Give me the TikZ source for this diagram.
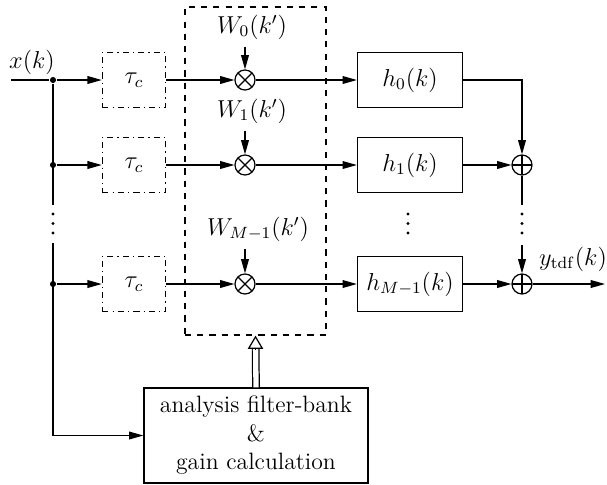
\documentclass[tikz,border=0pt]{standalone}
\usepackage{amsmath}
\usepackage{amssymb}
\usetikzlibrary{arrows.meta}

\begin{document}
\begin{tikzpicture}[x=0.49pt,y=-0.49pt,line width=0.6pt,
   font=\fontsize{11.6}{14}\selectfont,
   >={Triangle[length=7pt,width=3.8pt]},
   delay/.style={draw,dash dot,minimum width=31pt,minimum height=27pt},
   filt/.style={draw,minimum width=51.5pt,minimum height=27pt},
   mult/.style={draw,circle,inner sep=0pt,minimum size=9.8pt,
      path picture={\draw (path picture bounding box.north west) -- (path picture bounding box.south east)
         (path picture bounding box.south west) -- (path picture bounding box.north east);}},
   sum/.style={draw,circle,inner sep=0pt,minimum size=9.8pt,
      path picture={\draw (path picture bounding box.north) -- (path picture bounding box.south)
         (path picture bounding box.west) -- (path picture bounding box.east);}},
   junc/.style={circle,fill,inner sep=0pt,minimum size=3pt},
   dot/.style={circle,fill,inner sep=0pt,minimum size=1.6pt}]
\useasboundingbox (0,0) rectangle (607,484);

% input and branches
\coordinate (in) at (11,80);
\node (xk) at (32,62) {$x(k)$};
\node[junc] (j0) at (53,80) {};
\node[junc] (j1) at (53,165) {};
\node[junc] (j2) at (53,284) {};
\coordinate (ja) at (53,205);
\coordinate (jc) at (53,243);
\coordinate (jb) at (53,435.5);

\node[delay] (t0) at (134,80) {$\tau_c$};
\node[delay] (t1) at (134,165) {$\tau_c$};
\node[delay] (t2) at (134,284) {$\tau_c$};

% weighting
\node[draw,dashed,minimum width=69.1pt,minimum height=160.7pt] (wbox) at (255.5,171) {};
\node[mult] (m0) at (245,80) {};
\node[mult] (m1) at (245,165) {};
\node[mult] (m2) at (245,284) {};
\node (w0) at (252,27) {$W_0(k')$};
\node (w1) at (252,111) {$W_1(k')$};
\node (w2) at (258,229) {$W_{M-1}(k')$};

% synthesis filters
\node[filt] (h0) at (410,80) {$h_0(k)$};
\node[filt] (h1) at (410,165) {$h_1(k)$};
\node[filt] (h2) at (410,284) {$h_{M-1}(k)$};

\node[sum] (s1) at (522,165) {};
\node[sum] (s2) at (522,284) {};
\coordinate (sa) at (522,205);
\coordinate (sc) at (522,245);
\coordinate (out) at (605,284);
\node (yk) at (573,259) {$y_{\mathrm{tdf}}(k)$};

% vertical dots
\foreach \xx in {53,408,522}
   \foreach \yy in {214,223.5,233}
      \node[dot] at (\xx,\yy) {};

\node[draw,align=center,minimum width=109.8pt,minimum height=46.5pt] (ana) at (256,435.5)
   {analysis filter-bank\\ \&\\ gain calculation};

\draw (in) -- (j0);
\draw (j0) -- (ja);
\draw (jc) -- (jb);
\draw[->] (jb) -- (ana.west);
\draw[->] (j0) -- (t0);
\draw[->] (j1) -- (t1);
\draw[->] (j2) -- (t2);
\draw[->] (t0) -- (m0);
\draw[->] (t1) -- (m1);
\draw[->] (t2) -- (m2);
\draw[->] (w0.south -| m0) -- (m0);
\draw[->] (w1.south -| m1) -- (m1);
\draw[->] (w2.south -| m2) -- (m2);
\draw[->] (m0) -- (h0);
\draw[->] (m1) -- (h1);
\draw[->] (m2) -- (h2);
\draw[->] (h0.east) -| (s1.north);
\draw[->] (h1) -- (s1);
\draw[->] (h2) -- (s2);
\draw (s1) -- (sa);
\draw[->] (sc) -- (s2);
\draw[->] (s2) -- (out);
% gains to the weighting block
\draw[double,double distance=2.6pt,shorten >=6.2pt] (ana.north) -- (wbox.south);
\draw[-{Triangle[open,length=6.5pt,width=7.5pt]}] (wbox.south) ++(0,14) -- (wbox.south);
\end{tikzpicture}
\end{document}
